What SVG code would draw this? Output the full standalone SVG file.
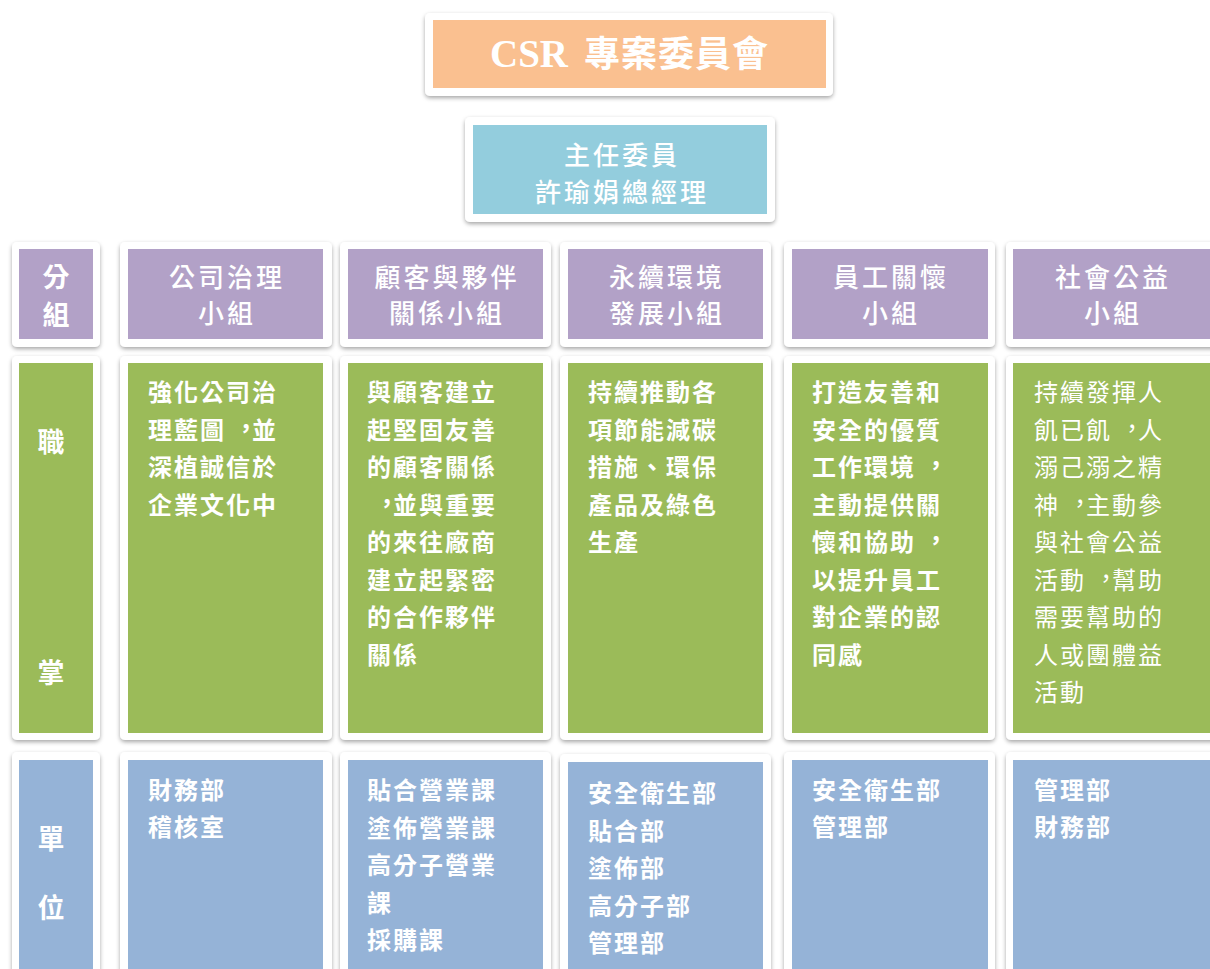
<svg xmlns="http://www.w3.org/2000/svg" width="1210" height="969" viewBox="0 0 1210 969" xml:lang="zh-TW" lang="zh-TW">
<defs>
<filter id="sh" x="-10%" y="-10%" width="120%" height="120%">
<feDropShadow dx="0" dy="2" stdDeviation="2.2" flood-color="#000" flood-opacity="0.35"/>
</filter>
</defs>
<style>
.card{fill:#ffffff;filter:url(#sh)}
.or{fill:#FAC090}.tl{fill:#93CDDD}.pu{fill:#B2A1C7}.gr{fill:#9BBB59}.bl{fill:#95B3D7}
text{fill:#ffffff;font-family:"Noto Sans CJK TC","Noto Sans CJK SC",sans-serif}
.hd{font-size:26px;letter-spacing:3px;text-anchor:middle;font-weight:500}
.lb{font-size:27px;font-weight:bold;text-anchor:middle}
.bd{font-size:24px;letter-spacing:2px;font-weight:bold}
.bdr{font-size:24px;letter-spacing:2px;font-weight:normal}
</style>
<g id="title">
<rect class="card" x="425" y="13" width="408" height="83" rx="5"/>
<rect class="or" x="433" y="20" width="393" height="68"/>
<text y="67" font-weight="bold"><tspan x="490" font-family="Liberation Serif,serif" font-size="39">CSR</tspan><tspan x="584" font-size="36" letter-spacing="1">專案委員會</tspan></text>
</g>
<g id="chair">
<rect class="card" x="465" y="117" width="310" height="105" rx="5"/>
<rect class="tl" x="473" y="125" width="294" height="89"/>
<text class="hd" x="622" y="165" font-weight="bold">主任委員</text>
<text class="hd" x="622" y="202" font-weight="bold">許瑜娟總經理</text>
</g>
<g id="col0">
<rect class="card" x="12" y="242" width="88" height="105" rx="5"/>
<rect class="pu" x="19" y="249" width="74" height="90"/>
<text class="lb" x="56" y="287">分</text>
<text class="lb" x="56" y="325">組</text>
<rect class="card" x="12" y="356" width="88" height="384" rx="5"/>
<rect class="gr" x="19" y="363" width="74" height="370"/>
<text class="lb" x="51" y="452">職</text>
<text class="lb" x="51" y="683">掌</text>
<rect class="card" x="12" y="752" width="88" height="240" rx="5"/>
<rect class="bl" x="19" y="760" width="74" height="220"/>
<text class="lb" x="51" y="849">單</text>
<text class="lb" x="51" y="918">位</text>
</g>
<g id="col1">
<rect class="card" x="120" y="242" width="212" height="105" rx="5"/>
<rect class="pu" x="128" y="249" width="195" height="90"/>
<text class="hd" x="227" y="287">公司治理</text>
<text class="hd" x="227" y="323">小組</text>
<rect class="card" x="120" y="356" width="212" height="384" rx="5"/>
<rect class="gr" x="128" y="363" width="195" height="370"/>
<text class="bd" x="148" y="401">強化公司治</text>
<text class="bd" x="148" y="438.5">理藍圖<tspan dx="8" dy="-2">，</tspan><tspan dx="-8" dy="2">並</tspan></text>
<text class="bd" x="148" y="476">深植誠信於</text>
<text class="bd" x="148" y="513.5">企業文化中</text>
<rect class="card" x="120" y="752" width="212" height="240" rx="5"/>
<rect class="bl" x="128" y="760" width="195" height="220"/>
<text class="bd" x="148" y="799">財務部</text>
<text class="bd" x="148" y="836">稽核室</text>
</g>
<g id="col2">
<rect class="card" x="340" y="242" width="211" height="105" rx="5"/>
<rect class="pu" x="348" y="249" width="195" height="90"/>
<text class="hd" x="447" y="287">顧客與夥伴</text>
<text class="hd" x="447" y="323">關係小組</text>
<rect class="card" x="340" y="356" width="211" height="384" rx="5"/>
<rect class="gr" x="348" y="363" width="195" height="370"/>
<text class="bd" x="367" y="401">與顧客建立</text>
<text class="bd" x="367" y="438.5">起堅固友善</text>
<text class="bd" x="367" y="476">的顧客關係</text>
<text class="bd" x="367" y="513.5"><tspan dx="8" dy="-2">，</tspan><tspan dx="-8" dy="2">並與重要</tspan></text>
<text class="bd" x="367" y="551">的來往廠商</text>
<text class="bd" x="367" y="588.5">建立起緊密</text>
<text class="bd" x="367" y="626">的合作夥伴</text>
<text class="bd" x="367" y="663.5">關係</text>
<rect class="card" x="340" y="752" width="211" height="240" rx="5"/>
<rect class="bl" x="348" y="760" width="195" height="220"/>
<text class="bd" x="367" y="799">貼合營業課</text>
<text class="bd" x="367" y="836.5">塗佈營業課</text>
<text class="bd" x="367" y="874">高分子營業</text>
<text class="bd" x="367" y="911.5">課</text>
<text class="bd" x="367" y="949">採購課</text>
</g>
<g id="col3">
<rect class="card" x="560" y="242" width="211" height="105" rx="5"/>
<rect class="pu" x="568" y="249" width="195" height="90"/>
<text class="hd" x="667" y="287">永續環境</text>
<text class="hd" x="667" y="323">發展小組</text>
<rect class="card" x="560" y="356" width="211" height="384" rx="5"/>
<rect class="gr" x="568" y="363" width="195" height="370"/>
<text class="bd" x="588" y="401">持續推動各</text>
<text class="bd" x="588" y="438.5">項節能減碳</text>
<text class="bd" x="588" y="476">措施、環保</text>
<text class="bd" x="588" y="513.5">產品及綠色</text>
<text class="bd" x="588" y="551">生產</text>
<rect class="card" x="560" y="754" width="211" height="240" rx="5"/>
<rect class="bl" x="568" y="762" width="195" height="220"/>
<text class="bd" x="588" y="802">安全衛生部</text>
<text class="bd" x="588" y="839.5">貼合部</text>
<text class="bd" x="588" y="877">塗佈部</text>
<text class="bd" x="588" y="914.5">高分子部</text>
<text class="bd" x="588" y="952">管理部</text>
</g>
<g id="col4">
<rect class="card" x="784" y="242" width="211" height="105" rx="5"/>
<rect class="pu" x="792" y="249" width="196" height="90"/>
<text class="hd" x="891" y="287">員工關懷</text>
<text class="hd" x="891" y="323">小組</text>
<rect class="card" x="784" y="356" width="211" height="384" rx="5"/>
<rect class="gr" x="792" y="363" width="196" height="370"/>
<text class="bd" x="812" y="401">打造友善和</text>
<text class="bd" x="812" y="438.5">安全的優質</text>
<text class="bd" x="812" y="476">工作環境<tspan dx="8" dy="-2">，</tspan></text>
<text class="bd" x="812" y="513.5">主動提供關</text>
<text class="bd" x="812" y="551">懷和協助<tspan dx="8" dy="-2">，</tspan></text>
<text class="bd" x="812" y="588.5">以提升員工</text>
<text class="bd" x="812" y="626">對企業的認</text>
<text class="bd" x="812" y="663.5">同感</text>
<rect class="card" x="784" y="752" width="211" height="240" rx="5"/>
<rect class="bl" x="792" y="760" width="196" height="220"/>
<text class="bd" x="812" y="799">安全衛生部</text>
<text class="bd" x="812" y="836">管理部</text>
</g>
<g id="col5">
<rect class="card" x="1006" y="242" width="220" height="105" rx="5"/>
<rect class="pu" x="1013" y="249" width="210" height="90"/>
<text class="hd" x="1113" y="287">社會公益</text>
<text class="hd" x="1113" y="323">小組</text>
<rect class="card" x="1006" y="356" width="220" height="384" rx="5"/>
<rect class="gr" x="1013" y="363" width="210" height="370"/>
<text class="bdr" x="1034" y="401">持續發揮人</text>
<text class="bdr" x="1034" y="438.5">飢已飢<tspan dx="8" dy="-2">，</tspan><tspan dx="-8" dy="2">人</tspan></text>
<text class="bdr" x="1034" y="476">溺己溺之精</text>
<text class="bdr" x="1034" y="513.5">神<tspan dx="8" dy="-2">，</tspan><tspan dx="-8" dy="2">主動參</tspan></text>
<text class="bdr" x="1034" y="551">與社會公益</text>
<text class="bdr" x="1034" y="588.5">活動<tspan dx="8" dy="-2">，</tspan><tspan dx="-8" dy="2">幫助</tspan></text>
<text class="bdr" x="1034" y="626">需要幫助的</text>
<text class="bdr" x="1034" y="663.5">人或團體益</text>
<text class="bdr" x="1034" y="701">活動</text>
<rect class="card" x="1006" y="752" width="220" height="240" rx="5"/>
<rect class="bl" x="1013" y="760" width="210" height="220"/>
<text class="bd" x="1034" y="799">管理部</text>
<text class="bd" x="1034" y="836">財務部</text>
</g>
<g id="connectors"/>
</svg>
